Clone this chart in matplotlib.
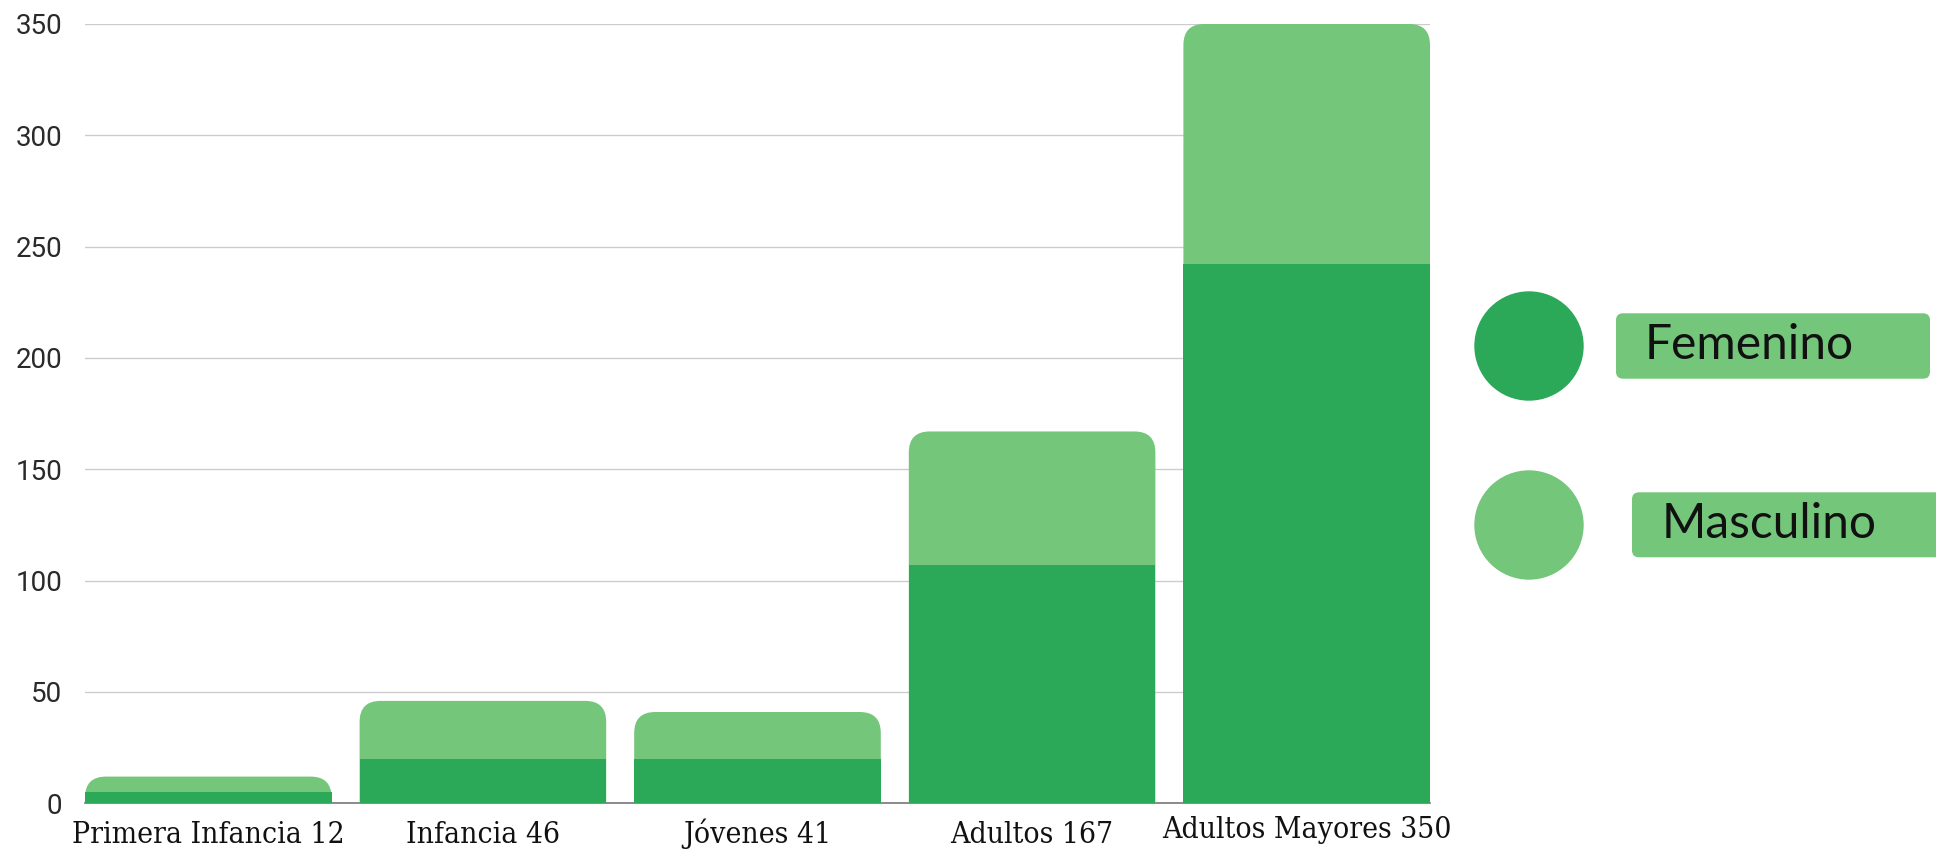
import matplotlib.pyplot as plt
from matplotlib.patches import FancyBboxPatch, Circle
from matplotlib.transforms import ScaledTranslation

categories = ['Primera Infancia 12', 'Infancia 46', 'Jóvenes 41', 'Adultos 167', 'Adultos Mayores 350']
femenino = [5, 20, 20, 107, 242]
masculino = [7, 26, 21, 60, 108]
y_ticks = [0, 50, 100, 150, 200, 250, 300, 350]
series = ['Femenino', 'Masculino']

dark = '#2ba858'
light = '#73c67a'

W, H = 1936, 849
fig = plt.figure(figsize=(W / 100, H / 100), dpi=100)
ax = fig.add_axes([85 / W, 1 - 803.3 / H, (1430 - 85) / W, (803.3 - 24) / H])

x = list(range(len(categories)))
bw = 0.898
ax.set_xlim(-bw / 2, len(categories) - 1 + bw / 2)
ax.set_ylim(0, 350)

# corner radius of 21 px, turned into data units
(x0, y0), (x1, y1) = ax.transData.transform([(0, 0), (1, 1)])
r = 21
rx, ry = r / (x1 - x0), r / (y1 - y0)

# light bar for the total (rounded top), dark bar for femenino over it
for i in x:
    total = femenino[i] + masculino[i]
    p = FancyBboxPatch((i - bw / 2, -2 * ry), bw, total + 2 * ry,
                       boxstyle=f'round,pad=0,rounding_size={rx}',
                       mutation_aspect=ry / rx, fc=light, ec='none', zorder=2)
    ax.add_patch(p)
ax.bar(x, femenino, width=bw, color=dark, zorder=3)

ax.axhline(0, color='#777777', lw=1.2, zorder=1, clip_on=False)
ax.set_yticks(y_ticks)
ax.grid(axis='y', color='#cccccc', lw=1.0, zorder=0)
ax.set_axisbelow(True)
for s in ax.spines.values():
    s.set_visible(False)

ax.set_xticks(x)
ax.set_xticklabels(categories, family='DejaVu Serif', fontstretch='condensed', fontsize=21.5,
                   color='#111111', va='baseline')
ax.tick_params(axis='x', length=0, pad=28.6)
ax.tick_params(axis='y', length=0, pad=16.5, labelsize=20, labelcolor='#2a2a2a')
for lab in ax.get_yticklabels():
    lab.set_family('Roboto')
last = ax.get_xticklabels()[-1]
last.set_transform(last.get_transform() + ScaledTranslation(0, 0.05, fig.dpi_scale_trans))

# legend drawn in pixel space
lax = fig.add_axes([0, 0, 1, 1], zorder=5)
lax.set_xlim(0, W)
lax.set_ylim(H, 0)
lax.axis('off')
lax.add_patch(Circle((1529, 346), 54, color=dark))
lax.add_patch(Circle((1529, 525), 54, color=light))
lax.add_patch(FancyBboxPatch((1616, 313.3), 314, 65.4, boxstyle='round,pad=0,rounding_size=7', fc=light, ec='none'))
lax.add_patch(FancyBboxPatch((1632, 492.3), 330, 65, boxstyle='round,pad=0,rounding_size=7', fc=light, ec='none'))
lax.text(1645, 359.3, series[0], family='Lato', fontsize=34.5, va='baseline', color='#111111')
lax.text(1662, 537.7, series[1], family='Lato', fontsize=34.5, va='baseline', color='#111111')

fig.savefig('out.png', dpi=100)
